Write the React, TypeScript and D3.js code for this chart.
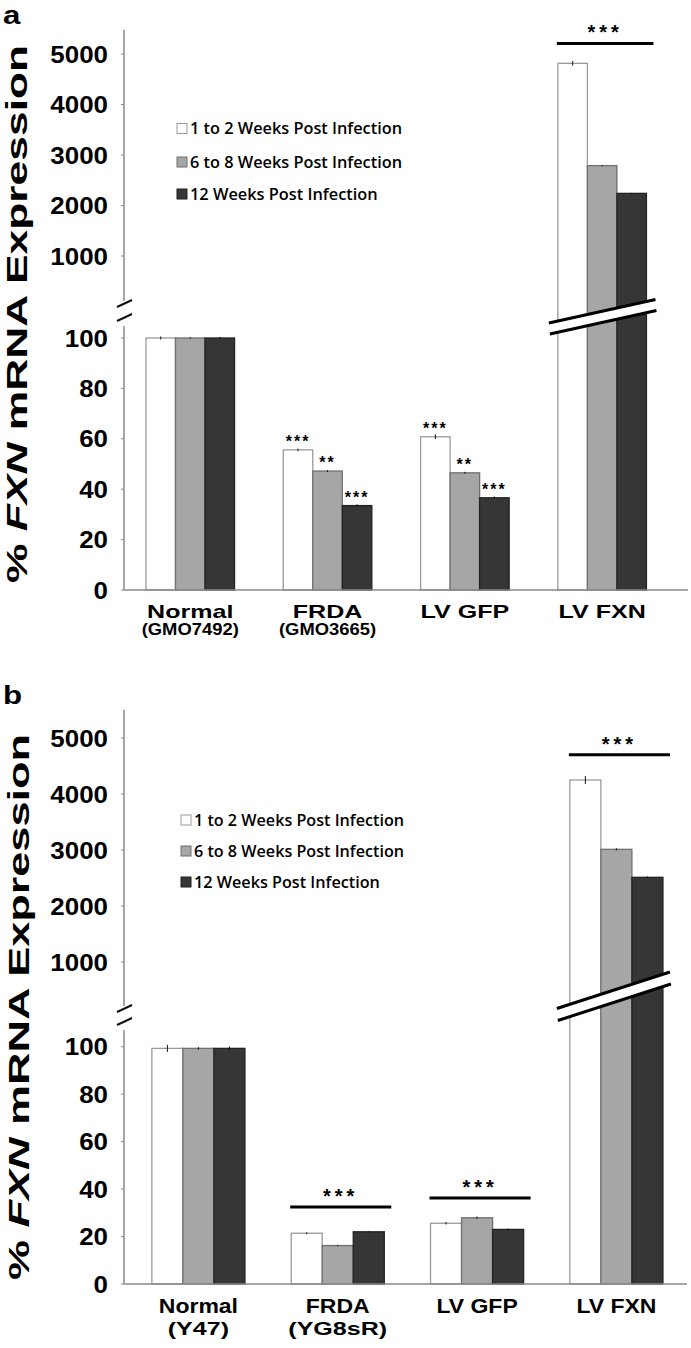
import React from 'react';
import * as d3 from 'd3';

// categories and series
const groups = ['Normal', 'FRDA', 'LV GFP', 'LV FXN'];
const series = ['1 to 2 Weeks Post Infection', '6 to 8 Weeks Post Infection', '12 Weeks Post Infection'];
const lowTicks = [0, 20, 40, 60, 80, 100];
const highTicks = [1000, 2000, 3000, 4000, 5000];

// panel a
const aSub = ['(GMO7492)', '(GMO3665)', '', ''];
const aWeek1 = [100, 55.6, 60.8, 4815];
const aWeek6 = [100, 47.2, 46.5, 2790];
const aWeek12 = [100, 33.5, 36.6, 2240];
const aErr1 = [0.6, 0.5, 0.9, 45];
const aErr6 = [0.3, 0.4, 0.4, 12];
const aErr12 = [0.4, 0.5, 0.5, 10];
const aStars1 = ['', '***', '***', ''];
const aStars6 = ['', '**', '**', ''];
const aStars12 = ['', '***', '***', ''];
const aGroupSig = [{ group: 'LV FXN', level: 5210, label: '***' }];

// panel b
const bSub = ['(Y47)', '(YG8sR)', '', ''];
const bWeek1 = [99.3, 21.4, 25.6, 4250];
const bWeek6 = [99.3, 16.2, 27.9, 3012];
const bWeek12 = [99.3, 22.0, 23.0, 2512];
const bErr1 = [1.5, 0.4, 0.5, 70];
const bErr6 = [0.5, 0.3, 0.5, 20];
const bErr12 = [0.8, 0.3, 0.4, 15];
const bStars1 = ['', '', '', ''];
const bStars6 = ['', '', '', ''];
const bStars12 = ['', '', '', ''];
const bGroupSig = [
  { group: 'FRDA', level: 32.4, label: '***' },
  { group: 'LV GFP', level: 36.2, label: '***' },
  { group: 'LV FXN', level: 4700, label: '***' },
];

const fills = ['#ffffff', '#a6a6a6', '#363636'];
const strokes = ['#9a9a9a', '#707070', '#222222'];
const AX = '#8a8a8a';
const FONT = '"Liberation Sans", Arial, sans-serif';

const panels = [
  {
    tag: 'a', tagY: 24, sub: aSub,
    values: [aWeek1, aWeek6, aWeek12], errs: [aErr1, aErr6, aErr12], stars: [aStars1, aStars6, aStars12],
    groupSig: aGroupSig,
    xRange: [124, 668.4], padIn: 0.355, padOut: 0.16, xEnd: 688,
    yLow: [590, 338], yHigh: [256, 54], axisTop: 30, upperEnd: 301, lowerStart: 326,
    slashes: [307, 321],
    brk: { l1: 323, r1: 299.5, gap: 11, extL: 9, extR: 9 },
    legend: { x: 177, y: [128.5, 162, 194], w: 212 },
    lab: { main: 19, mainSx: 1.32, mainDy: 28, sub: 16, subSx: 1.15, subDy: 45 },
    title: { x: 27, y: 583, size: 29, sx: 1.53 },
  },
  {
    tag: 'b', tagY: 704, sub: bSub,
    values: [bWeek1, bWeek6, bWeek12], errs: [bErr1, bErr6, bErr12], stars: [bStars1, bStars6, bStars12],
    groupSig: bGroupSig,
    xRange: [124, 690.8], padIn: 0.332, padOut: 0.2, xEnd: 687,
    yLow: [1284, 1046.7], yHigh: [962, 738], axisTop: 710, upperEnd: 1006, lowerStart: 1030,
    slashes: [1012, 1025],
    brk: { l1: 1008.5, r1: 972, gap: 12, extL: 13, extR: 7 },
    legend: { x: 181, y: [820, 851, 882], w: 210 },
    lab: { main: 20, mainSx: 1.15, mainDy: 29, sub: 19, subSx: 1.32, subDy: 51 },
    title: { x: 29, y: 1280, size: 30, sx: 1.5 },
  },
];

function Panel({ p }: { p: any }) {
  const x0 = d3.scaleBand().domain(groups).range(p.xRange).paddingInner(p.padIn).paddingOuter(p.padOut);
  const x1 = d3.scaleBand().domain(['0', '1', '2']).range([0, x0.bandwidth()]);
  const yLow = d3.scaleLinear().domain([0, 100]).range(p.yLow);
  const yHigh = d3.scaleLinear().domain([1000, 5000]).range(p.yHigh);
  const y = (v: number) => (v > 100 ? yHigh(v) : yLow(v));
  const axX = p.xRange[0];
  const base = yLow(0);

  const fxnX = x0('LV FXN') as number;
  const bx0 = fxnX - p.brk.extL, bx1 = fxnX + x0.bandwidth() + p.brk.extR;
  const { l1, r1, gap } = p.brk;

  return (
    <g>
      <text transform={`translate(3,${p.tagY}) scale(1.25,1)`} fontFamily={FONT} fontWeight="bold" fontSize={25}>{p.tag}</text>

      {/* y title */}
      <text transform={`translate(${p.title.x},${p.title.y}) rotate(-90) scale(${p.title.sx},1)`}
        fontFamily={FONT} fontWeight="bold" fontSize={p.title.size}>
        % <tspan fontStyle="italic">FXN</tspan> mRNA Expression
      </text>

      {/* y axis */}
      <line x1={axX} x2={axX} y1={p.axisTop} y2={p.upperEnd} stroke={AX} strokeWidth={1.5} />
      <line x1={axX} x2={axX} y1={p.lowerStart} y2={base} stroke={AX} strokeWidth={1.5} />
      {p.slashes.map((sy: number, i: number) => (
        <line key={i} x1={axX - 7} y1={sy} x2={axX + 8} y2={sy - 7} stroke="#111" strokeWidth={2} />
      ))}
      {highTicks.map((t) => (
        <g key={t} transform={`translate(0,${yHigh(t)})`}>
          <line x1={axX - 3} x2={axX} stroke={AX} />
          <text transform={`translate(${axX - 16},0) scale(1.08,1)`} dy="0.36em" textAnchor="end"
            fontFamily={FONT} fontWeight="bold" fontSize={24}>{t}</text>
        </g>
      ))}
      {lowTicks.map((t) => (
        <g key={t} transform={`translate(0,${yLow(t)})`}>
          <line x1={axX - 3} x2={axX} stroke={AX} />
          <text transform={`translate(${axX - 16},0) scale(1.08,1)`} dy="0.36em" textAnchor="end"
            fontFamily={FONT} fontWeight="bold" fontSize={24}>{t}</text>
        </g>
      ))}

      {/* bars */}
      {groups.map((g, gi) => (
        <g key={g} transform={`translate(${x0(g)},0)`}>
          {p.values.map((vals: number[], si: number) => {
            const v = vals[gi];
            const ys = v > 100 ? yHigh : yLow;
            const bx = x1(String(si)) as number;
            const bw = x1.bandwidth();
            const e = p.errs[si][gi];
            const star = p.stars[si][gi];
            return (
              <g key={si}>
                <rect x={bx} y={ys(v)} width={bw} height={base - ys(v)} fill={fills[si]} stroke={strokes[si]} strokeWidth={1.3} />
                <line x1={bx + bw / 2} x2={bx + bw / 2} y1={ys(v - e)} y2={ys(v + e)} stroke="#111" strokeWidth={1} />
                {star && (
                  <text x={bx + bw / 2} y={ys(v) - 3} textAnchor="middle" fontFamily={FONT} fontWeight="bold"
                    fontSize={16} letterSpacing={2}>{star}</text>
                )}
              </g>
            );
          })}
        </g>
      ))}

      {/* axis break across the LV FXN bars */}
      <polygon points={`${bx0},${l1} ${bx1},${r1} ${bx1},${r1 + gap} ${bx0},${l1 + gap}`} fill="#fff" />
      <line x1={bx0} y1={l1} x2={bx1} y2={r1} stroke="#000" strokeWidth={3} />
      <line x1={bx0 + 1} y1={l1 + gap} x2={bx1 + 1} y2={r1 + gap} stroke="#000" strokeWidth={3} />

      {/* group significance */}
      {p.groupSig.map((s: any) => {
        const gx = x0(s.group) as number;
        const ly = y(s.level);
        return (
          <g key={s.group}>
            <line x1={gx - 1} x2={gx + x0.bandwidth() + 7} y1={ly} y2={ly} stroke="#000" strokeWidth={3} />
            <text x={gx + x0.bandwidth() / 2 + 3} y={ly - 4} textAnchor="middle" fontFamily={FONT}
              fontWeight="bold" fontSize={20} letterSpacing={4}>{s.label}</text>
          </g>
        );
      })}

      {/* x axis */}
      <line x1={axX} x2={p.xEnd} y1={base} y2={base} stroke={AX} strokeWidth={1.5} />
      {groups.map((g, gi) => {
        const cx = (x0(g) as number) + x0.bandwidth() / 2;
        return (
          <g key={g}>
            <text transform={`translate(${cx},${base + p.lab.mainDy}) scale(${p.lab.mainSx},1)`} textAnchor="middle"
              fontFamily={FONT} fontWeight="bold" fontSize={p.lab.main}>{g}</text>
            {p.sub[gi] && (
              <text transform={`translate(${cx},${base + p.lab.subDy}) scale(${p.lab.subSx},1)`} textAnchor="middle"
                fontFamily={FONT} fontWeight="bold" fontSize={p.lab.sub}>{p.sub[gi]}</text>
            )}
          </g>
        );
      })}

      {/* legend */}
      {series.map((s, si) => (
        <g key={s} transform={`translate(${p.legend.x},${p.legend.y[si]})`}>
          <rect x={0} y={-5} width={10} height={10} fill={fills[si]} stroke={strokes[si]} />
          <text x={13} dy="0.36em" fontFamily='"Open Sans", sans-serif' fontWeight={600} fontSize={16}
            textLength={si === 2 ? p.legend.w * 0.885 : p.legend.w} lengthAdjust="spacingAndGlyphs">{s}</text>
        </g>
      ))}
    </g>
  );
}

export default function App() {
  return (
    <svg width={691} height={1348} style={{ position: 'absolute', left: 0, top: 0, background: '#fff' }}>
      <rect width={691} height={1348} fill="#fff" />
      {panels.map((p) => (
        <Panel key={p.tag} p={p} />
      ))}
    </svg>
  );
}
